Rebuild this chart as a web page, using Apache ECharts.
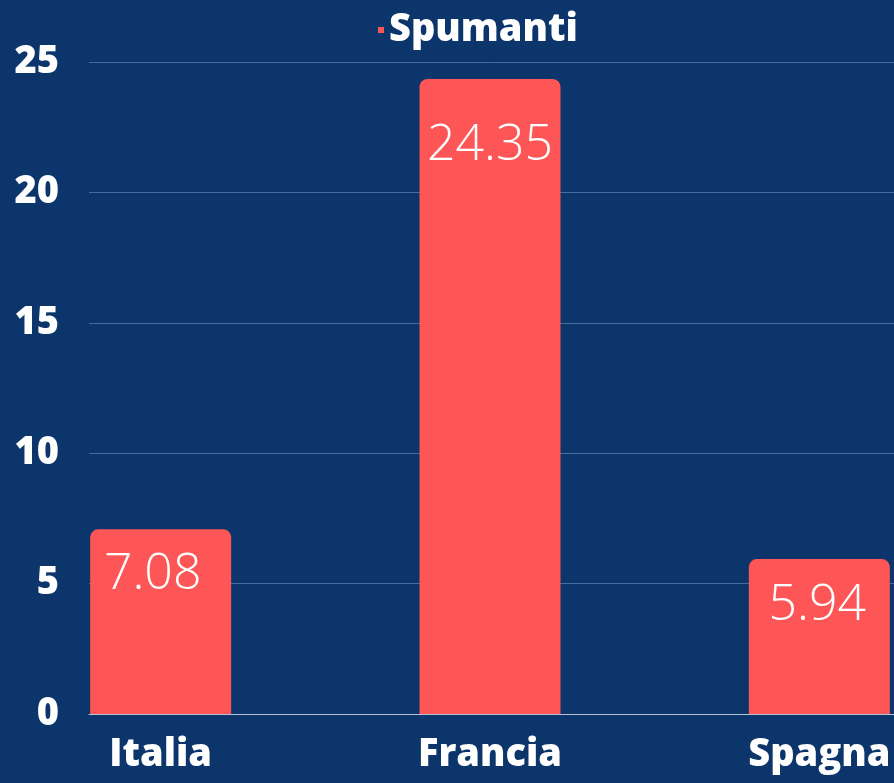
<!DOCTYPE html>
<html>
<head>
<meta charset="utf-8">
<script src="https://cdn.jsdelivr.net/npm/echarts@6/dist/echarts.min.js"></script>
<style>
html,body{margin:0;padding:0;background:#0c356b;}
#chart{width:894px;height:783px;}
</style>
</head>
<body>
<div id="chart"></div>
<script>
const categories = ['Italia', 'Francia', 'Spagna'];
const seriesName = 'Spumanti';
const values = [7.08, 24.35, 5.94];
const yTicks = [0, 5, 10, 15, 20, 25];

const chart = echarts.init(document.getElementById('chart'));
const font = '"Open Sans", sans-serif';
const labelDist = [20, 42, 22];
const labelShift = [-8, 0, -2];

chart.setOption({
  backgroundColor: '#0c356b',
  animation: false,
  legend: {
    top: 6,
    left: 373,
    icon: 'rect',
    itemWidth: 6,
    itemHeight: 6,
    itemGap: 8,
    textStyle: { color: '#ffffff', fontFamily: font, fontWeight: 800, fontSize: 38 },
    data: [seriesName]
  },
  grid: [
    { left: 89, right: 0, top: 62, bottom: 69, outerBoundsMode: 'none' },
    { left: -4, width: 988, top: 62, bottom: 69, outerBoundsMode: 'none', containLabel: false }
  ],
  xAxis: [
    { type: 'category', gridIndex: 0, data: categories,
      axisLine: { show: true, lineStyle: { color: '#b8c2d2', width: 1 } },
      axisTick: { show: false }, axisLabel: { show: false }, splitLine: { show: false } },
    { type: 'category', gridIndex: 1, data: categories,
      axisLine: { show: false }, axisTick: { show: false },
      axisLabel: { color: '#ffffff', fontFamily: font, fontWeight: 800, fontSize: 38, margin: 22 } }
  ],
  yAxis: [
    { type: 'value', gridIndex: 0, min: yTicks[0], max: yTicks[yTicks.length - 1], interval: 5,
      axisLine: { show: false }, axisTick: { show: false },
      axisLabel: { color: '#ffffff', fontFamily: font, fontWeight: 800, fontSize: 38, margin: 30 },
      splitLine: { show: true, lineStyle: { color: '#4a6a9c', width: 1 } } },
    { type: 'value', gridIndex: 1, min: yTicks[0], max: yTicks[yTicks.length - 1], interval: 5,
      show: false, splitLine: { show: false } }
  ],
  series: [{
    name: seriesName,
    type: 'bar',
    xAxisIndex: 1,
    yAxisIndex: 1,
    barWidth: 141,
    itemStyle: { color: '#fe5656', borderRadius: [8, 8, 0, 0] },
    data: values.map((v, i) => ({
      value: v,
      label: { distance: labelDist[i], offset: [labelShift[i], 0] }
    })),
    label: {
      show: true,
      position: 'insideTop',
      color: '#ffffff',
      fontFamily: font,
      fontWeight: 300,
      fontSize: 50
    }
  }]
});
</script>
</body>
</html>
